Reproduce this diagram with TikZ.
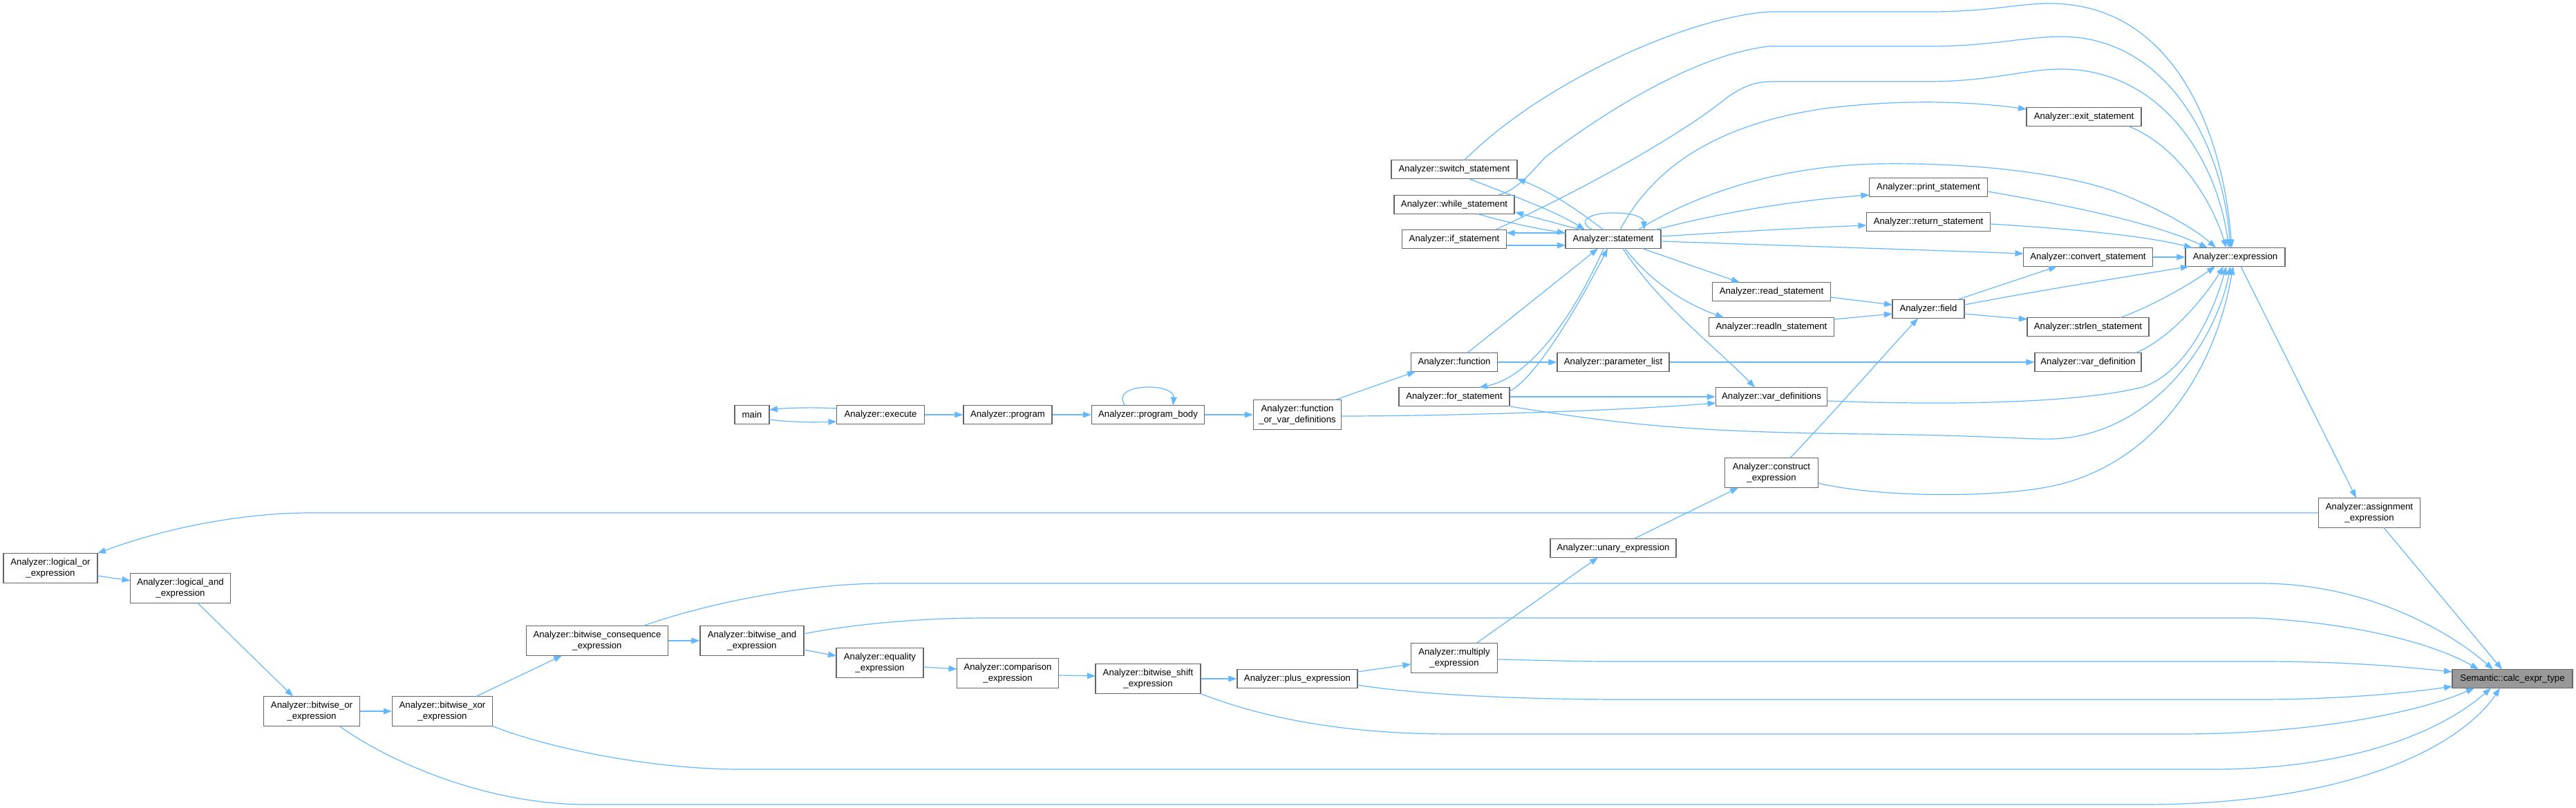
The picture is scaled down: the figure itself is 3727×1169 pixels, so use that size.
\documentclass[tikz,border=0pt]{standalone}
\usepackage{fontspec}
\newfontfamily\nodefont{Liberation Sans}
\usetikzlibrary{arrows.meta,calc}
\definecolor{edgeblue}{HTML}{63B8FF}
\definecolor{nodeborder}{HTML}{666666}
\definecolor{hilite}{HTML}{999999}
\begin{document}
\begin{tikzpicture}[x=0.75pt,y=-0.75pt,
  fn/.style={draw=nodeborder, fill=white, line width=1pt, inner sep=0pt, align=center,
             font=\nodefont\fontsize{9.9}{12.4}\selectfont},
  sz/.style 2 args={minimum width=#1*0.75pt, minimum height=#2*0.75pt},
  call/.style={draw=edgeblue, line width=0.9pt, -{Triangle[length=9pt,width=6.5pt]}}]
\fill[white] (0,0) rectangle (3727,1169);
\useasboundingbox (0,0) rectangle (3727,1169);

% ---------- nodes ----------
\node[fn,sz={50}{27}]  (main)   at (1088,600) {main};
\node[fn,sz={127}{27}] (exe)    at (1274,600) {Analyzer::execute};
\node[fn,sz={128}{27}] (prog)   at (1458,600) {Analyzer::program};
\node[fn,sz={163}{27}] (pbody)  at (1661,600) {Analyzer::program\_body};
\node[fn,sz={127}{43}] (fovd)   at (1877,600) {Analyzer::function\\\_or\_var\_definitions};
\node[fn,sz={182}{27}] (nswitch) at (2104,245) {Analyzer::switch\_statement};
\node[fn,sz={174}{27}] (nwhile) at (2104,296) {Analyzer::while\_statement};
\node[fn,sz={151}{27}] (nif)    at (2104,346) {Analyzer::if\_statement};
\node[fn,sz={125}{27}] (func)   at (2104,524) {Analyzer::function};
\node[fn,sz={160}{27}] (forst)  at (2104,574) {Analyzer::for\_statement};
\node[fn,sz={138}{27}] (stmt)   at (2334,346) {Analyzer::statement};
\node[fn,sz={162}{27}] (plist)  at (2334,524) {Analyzer::parameter\_list};
\node[fn,sz={171}{27}] (nread)  at (2563,422) {Analyzer::read\_statement};
\node[fn,sz={181}{27}] (readln) at (2563,473) {Analyzer::readln\_statement};
\node[fn,sz={161}{27}] (vdefs)  at (2563,574) {Analyzer::var\_definitions};
\node[fn,sz={135}{43}] (constr) at (2563,684) {Analyzer::construct\\\_expression};
\node[fn,sz={182}{27}] (unary)  at (2334,793) {Analyzer::unary\_expression};
\node[fn,sz={125}{43}] (mult)   at (2104,952) {Analyzer::multiply\\\_expression};
\node[fn,sz={104}{27}] (field)  at (2790,447) {Analyzer::field};
\node[fn,sz={171}{27}] (print)  at (2790,271) {Analyzer::print\_statement};
\node[fn,sz={179}{27}] (nreturn) at (2790,321) {Analyzer::return\_statement};
\node[fn,sz={166}{27}] (nexit)  at (3015,169) {Analyzer::exit\_statement};
\node[fn,sz={187}{27}] (conv)   at (3021,372) {Analyzer::convert\_statement};
\node[fn,sz={176}{27}] (strlen) at (3021,473) {Analyzer::strlen\_statement};
\node[fn,sz={154}{27}] (vdef)   at (3021,524) {Analyzer::var\_definition};
\node[fn,sz={144}{27}] (expr)   at (3234,372) {Analyzer::expression};
\node[fn,sz={147}{43}] (assign) at (3428,742) {Analyzer::assignment\\\_expression};
\node[fn,sz={174}{27},fill=hilite] (calc) at (3635,982) {Semantic::calc\_expr\_type};
\node[fn,sz={136}{43}] (lor)    at (73,822)   {Analyzer::logical\_or\\\_expression};
\node[fn,sz={145}{43}] (land)   at (261,851)  {Analyzer::logical\_and\\\_expression};
\node[fn,sz={139}{43}] (bor)    at (451,1029) {Analyzer::bitwise\_or\\\_expression};
\node[fn,sz={145}{43}] (bxor)   at (640,1029) {Analyzer::bitwise\_xor\\\_expression};
\node[fn,sz={205}{43}] (bcons)  at (864,927)  {Analyzer::bitwise\_consequence\\\_expression};
\node[fn,sz={150}{43}] (band)   at (1088,927) {Analyzer::bitwise\_and\\\_expression};
\node[fn,sz={126}{43}] (eq)     at (1273,959) {Analyzer::equality\\\_expression};
\node[fn,sz={147}{43}] (cmp)    at (1458,974) {Analyzer::comparison\\\_expression};
\node[fn,sz={152}{43}] (shift)  at (1661,982) {Analyzer::bitwise\_shift\\\_expression};
\node[fn,sz={174}{27}] (plus)   at (1877,982) {Analyzer::plus\_expression};

% ---------- edges ----------
\draw[call] ($(main)+(25,7)$) .. controls (1140,611) and (1180,611) .. ($(exe)+(-63.5,10)$);
\draw[call] ($(exe)+(-63.5,-9)$) .. controls (1180,589) and (1140,590) .. ($(main)+(25,-7)$);
\draw[call] (exe.east) -- (prog.west);
\draw[call] (prog.east) -- (pbody.west);
\draw[call] ($(pbody)+(-33,-13.5)$) .. controls (1615,570) and (1635,560) .. (1662,560) .. controls (1690,560) and (1699,570) .. ($(pbody)+(36,-13.5)$);
\draw[call] (pbody.east) -- (fovd.west);
\draw[call] ($(fovd)+(55,-21.5)$) -- ($(func)+(-56,13.5)$);
\draw[call] ($(fovd)+(63.5,2)$) .. controls (2100,602) and (2350,594) .. ($(vdefs)+(-80.5,9)$);
\draw[call] (func.east) -- (plist.west);
\draw[call] ($(func)+(19,-13.5)$) -- ($(stmt)+(-22,13.5)$);
\draw[call] (plist.east) -- (vdef.west);
\draw[call] ($(forst)+(80,-8)$) .. controls (2225,545) and (2290,430) .. ($(stmt)+(-8,13.5)$);
\draw[call] ($(stmt)+(-14,13.5)$) .. controls (2285,440) and (2220,545) .. ($(forst)+(36,-13.5)$);
\draw[call] (forst.east) -- (vdefs.west);
\draw[call] ($(forst)+(78,13.5)$) .. controls (2350,615) and (2450,625) .. (2700,628) .. controls (2880,630) and (2930,636) .. (2970,635) .. controls (3110,630) and (3205,500) .. ($(expr)+(-7,13.5)$);

% switch / while / if
\draw[call] ($(stmt)+(-14,-13.5)$) .. controls (2290,310) and (2250,280) .. ($(nswitch)+(91,13.5)$);
\draw[call] ($(nswitch)+(21,13.5)$) .. controls (2180,280) and (2250,305) .. ($(stmt)+(-41,-13.5)$);
\draw[call] ($(nswitch)+(15,-13.5)$) .. controls (2230,120) and (2440,25) .. (2560,17) -- (2790,17) .. controls (2880,17) and (2920,5) .. (2965,5) .. controls (3140,5) and (3215,180) .. ($(expr)+(-5,-13.5)$);
\draw[call] ($(stmt)+(-47,-13.5)$) -- ($(nwhile)+(88,11)$);
\draw[call] ($(nwhile)+(34,13.5)$) .. controls (2180,322) and (2230,332) .. ($(stmt)+(-69,-9)$);
\draw[call] ($(nwhile)+(64,-14)$) .. controls (2195,275) and (2215,250) .. (2235,228) .. controls (2290,185) and (2440,80) .. (2560,67) -- (2790,67) .. controls (2880,67) and (2930,53) .. (2982,53) .. controls (3130,53) and (3215,200) .. ($(expr)+(-7,-13.5)$);
\draw[call] ($(stmt)+(-69,-9)$) -- ($(nif)+(75.5,-9)$);
\draw[call] ($(nif)+(75.5,9)$) -- ($(stmt)+(-69,9)$);
\draw[call] ($(nif)+(59,-13.5)$) .. controls (2300,270) and (2440,190) .. (2500,140) .. controls (2530,120) and (2545,118) .. (2570,118) -- (2790,118) .. controls (2880,118) and (2930,100) .. (2982,100) .. controls (3120,100) and (3205,220) .. ($(expr)+(-9,-13.5)$);
\draw[call] ($(stmt)+(-30,-13.5)$) .. controls (2280,320) and (2300,308) .. (2333,308) .. controls (2365,308) and (2378,315) .. ($(stmt)+(45,-13.5)$);

% statement -> ...
\draw[call] ($(stmt)+(10,-13.5)$) .. controls (2390,245) and (2480,180) .. (2640,157) .. controls (2760,142) and (2860,148) .. ($(nexit)+(-83,-11)$);
\draw[call] ($(stmt)+(61,-13.5)$) .. controls (2500,305) and (2600,290) .. ($(print)+(-85.5,11)$);
\draw[call] ($(stmt)+(69,-4)$) .. controls (2500,336) and (2600,330) .. ($(nreturn)+(-89.5,5)$);
\draw[call] ($(stmt)+(69,3)$) .. controls (2600,356) and (2800,362) .. ($(conv)+(-93.5,-5)$);
\draw[call] ($(stmt)+(36,-13.5)$) .. controls (2430,295) and (2550,240) .. (2720,237) .. controls (2850,235) and (3000,250) .. (3080,285) .. controls (3140,310) and (3180,335) .. ($(expr)+(-28,-13.5)$);
\draw[call] ($(stmt)+(42,13.5)$) -- ($(nread)+(-46,-13.5)$);
\draw[call] ($(stmt)+(17,13.5)$) .. controls (2390,410) and (2440,440) .. ($(readln)+(-69,-13.5)$);
\draw[call] ($(stmt)+(14,13.5)$) .. controls (2400,440) and (2480,500) .. ($(vdefs)+(-24,-13.5)$);

% to expression
\draw[call] ($(nexit)+(64,13.5)$) .. controls (3150,210) and (3200,290) .. ($(expr)+(-13,-13.5)$);
\draw[call] ($(print)+(85.5,6)$) .. controls (2980,295) and (3110,320) .. ($(expr)+(-40,-13.5)$);
\draw[call] ($(nreturn)+(89.5,3)$) .. controls (2980,330) and (3100,340) .. ($(expr)+(-62,-13.5)$);
\draw[call] (conv.east) -- (expr.west);
\draw[call] ($(nread)+(85.5,8)$) -- ($(field)+(-52,-6)$);
\draw[call] ($(readln)+(90.5,-11)$) -- ($(field)+(-52,7)$);
\draw[call] ($(field)+(42,-13.5)$) -- ($(conv)+(-45,13.5)$);
\draw[call] ($(field)+(52,-6)$) .. controls (2950,420) and (3080,400) .. ($(expr)+(-67,13.5)$);
\draw[call] ($(field)+(52,7)$) -- ($(strlen)+(-88,-11)$);
\draw[call] ($(strlen)+(47,-13.5)$) .. controls (3120,440) and (3170,410) .. ($(expr)+(-29,13.5)$);
\draw[call] ($(vdef)+(69,-13.5)$) .. controls (3140,490) and (3190,430) .. ($(expr)+(-17,13.5)$);
\draw[call] ($(vdefs)+(80.5,6)$) .. controls (2800,586) and (3000,585) .. (3100,560) .. controls (3160,540) and (3200,460) .. ($(expr)+(-13,13.5)$);
\draw[call] ($(constr)+(67.5,15)$) .. controls (2720,720) and (2880,720) .. (2960,705) .. controls (3100,680) and (3200,560) .. ($(expr)+(-3,13.5)$);
\draw[call] ($(constr)+(27,-21.5)$) .. controls (2650,600) and (2720,520) .. ($(field)+(-15,13.5)$);
\draw[call] ($(expr)+(8,13.5)$) -- ($(assign)+(-19,-21.5)$);
\draw[call] ($(assign)+(21,21.5)$) -- ($(calc)+(-15,-13.5)$);
\draw[call] (assign.west) -- (450,742) .. controls (360,742) and (250,760) .. ($(lor)+(68,-21.5)$);

% expression chain
\draw[call] ($(lor)+(68,11)$) -- ($(land)+(-72.5,-11)$);
\draw[call] ($(land)+(25,21.5)$) -- ($(bor)+(-27,-21.5)$);
\draw[call] (bor.east) -- (bxor.west);
\draw[call] ($(bor)+(40,21.5)$) .. controls (560,1100) and (700,1164) .. (850,1164) -- (3100,1164) .. controls (3400,1164) and (3560,1080) .. ($(calc)+(-18,13.5)$);
\draw[call] ($(bxor)+(49,-21.5)$) -- ($(bcons)+(-51,21.5)$);
\draw[call] ($(bxor)+(72.5,21.5)$) .. controls (800,1085) and (950,1113) .. (1070,1113) -- (3200,1113) .. controls (3400,1113) and (3530,1060) .. ($(calc)+(-31,13.5)$);
\draw[call] (bcons.east) -- (band.west);
\draw[call] ($(bcons)+(67,-21.5)$) .. controls (1000,880) and (1150,844) .. (1280,844) -- (3270,844) .. controls (3420,844) and (3540,910) .. ($(calc)+(-28,-13.5)$);
\draw[call] ($(band)+(75,13)$) -- ($(eq)+(-63,-10)$);
\draw[call] ($(band)+(75,-10)$) .. controls (1250,900) and (1350,894) .. (1430,894) -- (3260,894) .. controls (3400,900) and (3520,930) .. ($(calc)+(-49,-13.5)$);
\draw[call] ($(eq)+(63,6)$) -- ($(cmp)+(-73.5,-6)$);
\draw[call] ($(cmp)+(73.5,3)$) -- ($(shift)+(-76,-4)$);
\draw[call] (shift.east) -- (plus.west);
\draw[call] ($(shift)+(76,21.5)$) .. controls (1830,1040) and (1950,1062) .. (2100,1062) -- (3150,1062) .. controls (3350,1062) and (3500,1030) .. ($(calc)+(-55,13.5)$);
\draw[call] ($(plus)+(87,-10)$) -- ($(mult)+(-62.5,9)$);
\draw[call] ($(plus)+(87,9)$) .. controls (2050,1005) and (2200,1012) .. (2350,1012) -- (3269,1012) .. controls (3400,1012) and (3500,1000) .. ($(calc)+(-87,11)$);
\draw[call] ($(mult)+(32,-21.5)$) -- ($(unary)+(-22,13.5)$);
\draw[call] ($(mult)+(62.5,2)$) .. controls (2220,955) and (2280,957) .. (2330,957) -- (3269,957) .. controls (3400,957) and (3480,965) .. ($(calc)+(-87,-10)$);
\draw[call] ($(unary)+(30,-13.5)$) -- ($(constr)+(-48,21.5)$);
\end{tikzpicture}
\end{document}
